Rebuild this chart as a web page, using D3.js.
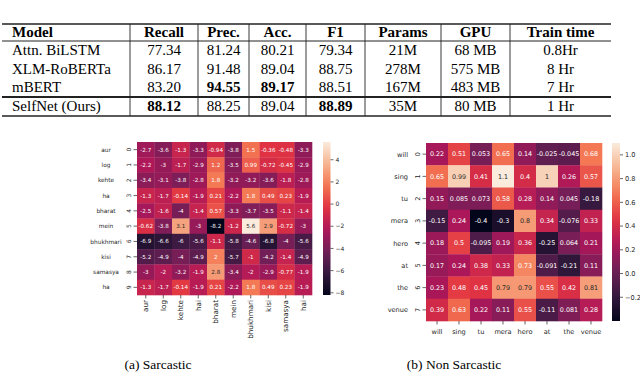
<!DOCTYPE html>
<html>
<head>
<meta charset="utf-8">
<script src="https://cdn.jsdelivr.net/npm/d3@7"></script>
<style>
  body { margin: 0; background: #fff; }
  svg { display: block; }
</style>
</head>
<body>
<div id="chart"></div>
<script>
// ---------- table data ----------
const tableHeaders = ["Model", "Recall", "Prec.", "Acc.", "F1", "Params", "GPU", "Train time"];
const models = ["Attn. BiLSTM", "XLM-RoBERTa", "mBERT", "SelfNet (Ours)"];
const recall = ["77.34", "86.17", "83.20", "88.12"];
const precision = ["81.24", "91.48", "94.55", "88.25"];
const accuracy = ["80.21", "89.04", "89.17", "89.04"];
const f1 = ["79.34", "88.75", "88.51", "88.89"];
const params = ["21M", "278M", "167M", "35M"];
const gpu = ["68 MB", "575 MB", "483 MB", "80 MB"];
const trainTime = ["0.8Hr", "8 Hr", "7 Hr", "1 Hr"];
// best value per column (row index), drawn bold
const bestRow = { 1: 3, 2: 2, 3: 2, 4: 3 };

// ---------- heatmap data ----------
const sarcRows = ["aur", "log", "kehte", "ha", "bharat", "mein", "bhukhmari", "kisi", "samasya", "ha"];
const sarcCols = ["aur", "log", "kehte", "hai", "bharat", "mein", "bhukhmari", "kisi", "samasya", "hai"];
const sarcValues = [
  [-2.7, -3.6, -1.3, -3.3, -0.94, -3.8, 1.5, -0.36, -0.48, -3.3],
  [-2.2, -3, -1.7, -2.9, 1.2, -3.5, 0.99, -0.72, -0.45, -2.9],
  [-3.4, -3.1, -3.8, -2.8, 1.8, -3.2, -3.2, -3.6, -1.8, -2.8],
  [-1.3, -1.7, -0.14, -1.9, 0.21, -2.2, 1.8, 0.49, 0.23, -1.9],
  [-2.5, -1.6, -4, -1.4, 0.57, -3.3, -3.7, -3.5, -1.1, -1.4],
  [-0.62, -3.8, 3.1, -3, -8.2, -1.2, 5.6, 2.9, -0.72, -3],
  [-6.9, -6.6, -6, -5.6, -1.1, -5.8, -4.6, -6.8, -4, -5.6],
  [-5.2, -4.9, -4, -4.9, 2, -5.7, -1, -4.2, -1.4, -4.9],
  [-3, -2, -3.2, -1.9, 2.8, -3.4, -2, -2.9, -0.77, -1.9],
  [-1.3, -1.7, -0.14, -1.9, 0.21, -2.2, 1.8, 0.49, 0.23, -1.9]
];
const sarcTicks = [4, 2, 0, -2, -4, -6, -8];

const nonWords = ["will", "sing", "tu", "mera", "hero", "at", "the", "venue"];
const nonValues = [
  [0.22, 0.51, 0.053, 0.65, 0.14, -0.025, -0.045, 0.68],
  [0.65, 0.99, 0.41, 1.1, 0.4, 1, 0.26, 0.57],
  [0.15, 0.085, 0.073, 0.58, 0.28, 0.14, 0.045, -0.18],
  [-0.15, 0.24, -0.4, -0.3, 0.8, 0.34, -0.076, 0.33],
  [0.18, 0.5, -0.095, 0.19, 0.36, -0.25, 0.064, 0.21],
  [0.17, 0.24, 0.38, 0.33, 0.73, -0.091, -0.21, 0.11],
  [0.23, 0.48, 0.45, 0.79, 0.79, 0.55, 0.42, 0.81],
  [0.39, 0.63, 0.22, 0.11, 0.55, -0.11, 0.081, 0.28]
];
const nonTicks = [1.0, 0.8, 0.6, 0.4, 0.2, 0.0, -0.2];

const captions = ["(a) Sarcastic", "(b) Non Sarcastic"];

// ---------- setup ----------
const W = 640, H = 391;
const serif = "'Liberation Serif', 'Times New Roman', serif";
const sans = "'DejaVu Sans', sans-serif";

const svg = d3.select("#chart").append("svg")
  .attr("width", W)
  .attr("height", H);

// seaborn "rocket"
const rocket = d3.piecewise(d3.interpolateRgb, [
  "#03051a", "#35193e", "#701f57", "#ad1759", "#e13342", "#f37651", "#f6b48f", "#faebdd"
]);

function luminance(c) {
  const rgb = d3.rgb(c);
  const lin = [rgb.r, rgb.g, rgb.b].map(v => {
    v = v / 255;
    return v <= 0.03928 ? v / 12.92 : Math.pow((v + 0.055) / 1.055, 2.4);
  });
  return 0.2126 * lin[0] + 0.7152 * lin[1] + 0.0722 * lin[2];
}

const fmtMinus = d => String(d).replace("-", "\u2212");

// =================== Table ===================
const colEdges = [2, 130, 198, 249, 306, 365, 441, 510, 611];
const table = svg.append("g").attr("font-family", serif).attr("font-size", 15);
const tTop = 24, tHead = 41, tMid = 97, tBottom = 116;
const rowBase = [55, 74, 92, 111];

const columns = [models, recall, precision, accuracy, f1, params, gpu, trainTime];

table.selectAll(".hdr")
  .data(tableHeaders)
  .enter()
  .append("text")
  .attr("x", (d, i) => i === 0 ? colEdges[0] + 10 : (colEdges[i] + colEdges[i + 1]) / 2)
  .attr("y", 37)
  .attr("text-anchor", (d, i) => i === 0 ? "start" : "middle")
  .attr("font-weight", "bold")
  .text(d => d);

columns.forEach(function (col, ci) {
  table.selectAll(".c" + ci)
    .data(col)
    .enter()
    .append("text")
    .attr("x", ci === 0 ? colEdges[0] + 10 : (colEdges[ci] + colEdges[ci + 1]) / 2)
    .attr("y", (d, ri) => rowBase[ri])
    .attr("text-anchor", ci === 0 ? "start" : "middle")
    .attr("font-weight", (d, ri) => bestRow[ci] === ri ? "bold" : "normal")
    .text(d => d);
});

// rules
[[tTop, 1.6], [tHead, 1], [tMid, 1.8], [tBottom, 1.6]].forEach(function (r) {
  table.append("line")
    .attr("x1", colEdges[0]).attr("x2", colEdges[colEdges.length - 1])
    .attr("y1", r[0]).attr("y2", r[0])
    .attr("stroke", "#222").attr("stroke-width", r[1]);
});
colEdges.slice(1, -1).forEach(function (x) {
  table.append("line")
    .attr("x1", x).attr("x2", x)
    .attr("y1", tTop).attr("y2", tBottom)
    .attr("stroke", "#222").attr("stroke-width", 0.9);
});

// =================== Heatmaps ===================
function drawHeatmap(cfg) {
  const g = svg.append("g");
  const nR = cfg.values.length, nC = cfg.values[0].length;
  const x = d3.scaleBand().domain(d3.range(nC)).range([cfg.x0, cfg.x1]);
  const y = d3.scaleBand().domain(d3.range(nR)).range([cfg.y0, cfg.y1]);
  const flat = cfg.values.flat();
  const color = d3.scaleSequential(rocket).domain(d3.extent(flat));

  const cells = [];
  cfg.values.forEach((row, ri) => row.forEach((v, ci) => cells.push({ r: ri, c: ci, v: v })));

  g.selectAll(".cell")
    .data(cells)
    .enter()
    .append("rect")
    .attr("x", d => x(d.c))
    .attr("y", d => y(d.r))
    .attr("width", x.bandwidth() + 0.3)
    .attr("height", y.bandwidth() + 0.3)
    .attr("fill", d => color(d.v));

  g.selectAll(".annot")
    .data(cells)
    .enter()
    .append("text")
    .attr("x", d => x(d.c) + x.bandwidth() / 2)
    .attr("y", d => y(d.r) + y.bandwidth() / 2)
    .attr("dy", "0.36em")
    .attr("text-anchor", "middle")
    .attr("font-family", sans)
    .attr("font-size", cfg.annotSize)
    .attr("fill", d => luminance(color(d.v)) > 0.408 ? "#262626" : "#ffffff")
    .text(d => String(d.v));

  // y ticks: marks, index digits, word labels
  const yl = g.append("g").attr("font-family", sans).attr("fill", "#262626");
  yl.selectAll(".yt")
    .data(d3.range(nR))
    .enter()
    .append("line")
    .attr("x1", cfg.x0 - 3.5).attr("x2", cfg.x0)
    .attr("y1", d => y(d) + y.bandwidth() / 2)
    .attr("y2", d => y(d) + y.bandwidth() / 2)
    .attr("stroke", "#262626").attr("stroke-width", 0.7);
  yl.selectAll(".yi")
    .data(d3.range(nR))
    .enter()
    .append("text")
    .attr("transform", d => "translate(" + (cfg.x0 - 6) + "," + (y(d) + y.bandwidth() / 2) + ") rotate(-90)")
    .attr("text-anchor", "middle")
    .attr("font-size", cfg.labelSize)
    .text(d => d);
  yl.selectAll(".yw")
    .data(cfg.rowLabels)
    .enter()
    .append("text")
    .attr("x", cfg.wordX)
    .attr("y", (d, i) => y(i) + y.bandwidth() / 2)
    .attr("dy", "0.36em")
    .attr("text-anchor", cfg.wordAnchor)
    .attr("font-size", cfg.wordSize)
    .text(d => d);

  // x ticks
  const xl = g.append("g").attr("font-family", sans).attr("fill", "#262626");
  xl.selectAll(".xt")
    .data(d3.range(nC))
    .enter()
    .append("line")
    .attr("x1", d => x(d) + x.bandwidth() / 2)
    .attr("x2", d => x(d) + x.bandwidth() / 2)
    .attr("y1", cfg.y1).attr("y2", cfg.y1 + 3.5)
    .attr("stroke", "#262626").attr("stroke-width", 0.7);
  if (cfg.rotateX) {
    xl.selectAll(".xw")
      .data(cfg.colLabels)
      .enter()
      .append("text")
      .attr("transform", (d, i) => "translate(" + (x(i) + x.bandwidth() / 2) + "," + (cfg.y1 + 5) + ") rotate(-90)")
      .attr("dy", "0.36em")
      .attr("text-anchor", "end")
      .attr("font-size", cfg.xSize)
      .text(d => d);
  } else {
    xl.selectAll(".xw")
      .data(cfg.colLabels)
      .enter()
      .append("text")
      .attr("x", (d, i) => x(i) + x.bandwidth() / 2)
      .attr("y", cfg.y1 + 11)
      .attr("dy", "0.36em")
      .attr("text-anchor", "middle")
      .attr("font-size", cfg.xSize)
      .text(d => d);
  }

  // colorbar
  const gid = "grad" + cfg.id;
  const grad = svg.append("defs").append("linearGradient")
    .attr("id", gid)
    .attr("x1", 0).attr("x2", 0).attr("y1", 1).attr("y2", 0);
  d3.range(0, 1.0001, 0.05).forEach(t => {
    grad.append("stop").attr("offset", t).attr("stop-color", rocket(t));
  });
  g.append("rect")
    .attr("x", cfg.cbX).attr("y", cfg.y0)
    .attr("width", cfg.cbW).attr("height", cfg.y1 - cfg.y0)
    .attr("fill", "url(#" + gid + ")");
  const cy = d3.scaleLinear().domain(color.domain()).range([cfg.y1, cfg.y0]);
  const cb = g.append("g").attr("transform", "translate(" + (cfg.cbX + cfg.cbW) + ",0)");
  cb.selectAll("line")
    .data(cfg.ticks)
    .enter()
    .append("line")
    .attr("x1", 0).attr("x2", 3)
    .attr("y1", d => cy(d)).attr("y2", d => cy(d))
    .attr("stroke", "#262626").attr("stroke-width", 0.7);
  cb.selectAll("text")
    .data(cfg.ticks)
    .enter()
    .append("text")
    .attr("x", 5)
    .attr("y", d => cy(d))
    .attr("dy", "0.36em")
    .attr("font-family", sans)
    .attr("font-size", cfg.cbSize)
    .attr("fill", "#262626")
    .text(d => fmtMinus(cfg.tickFmt(d)));
}

drawHeatmap({
  id: "a",
  values: sarcValues, rowLabels: sarcRows, colLabels: sarcCols,
  x0: 137, x1: 312, y0: 142, y1: 295,
  annotSize: 5.6, labelSize: 6, wordSize: 5.8, wordX: 106, wordAnchor: "middle",
  rotateX: true, xSize: 7.2,
  cbX: 323, cbW: 7.5, cbSize: 6, ticks: sarcTicks, tickFmt: d3.format("d")
});

drawHeatmap({
  id: "b",
  values: nonValues, rowLabels: nonWords, colLabels: nonWords,
  x0: 426, x1: 602, y0: 143, y1: 321,
  annotSize: 6.4, labelSize: 6.6, wordSize: 6.6, wordX: 408, wordAnchor: "end",
  rotateX: false, xSize: 6.6,
  cbX: 612, cbW: 8, cbSize: 6.6, ticks: nonTicks, tickFmt: d3.format(".1f")
});

// captions
svg.selectAll(".cap")
  .data(captions)
  .enter()
  .append("text")
  .attr("x", (d, i) => i === 0 ? 158 : 454)
  .attr("y", 369)
  .attr("text-anchor", "middle")
  .attr("font-family", serif)
  .attr("font-size", 13.5)
  .text(d => d);
</script>
</body>
</html>
